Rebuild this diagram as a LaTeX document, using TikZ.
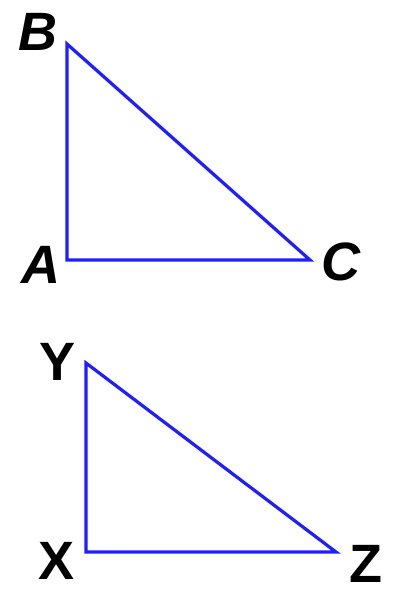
\documentclass[tikz,border=0pt]{standalone}
\usepackage{fontspec}
\setmainfont{Liberation Sans}
\begin{document}
\begin{tikzpicture}[x=1pt,y=-1pt,
  tri/.style={draw={rgb,255:red,30;green,30;blue,255},line width=3.2pt,line join=miter},
  lbl/.style={font=\fontsize{54}{54}\selectfont\bfseries,inner sep=0pt,text=black}]
\useasboundingbox (0,0) rectangle (394,594);
\fill[white] (0,0) rectangle (394,594);
\coordinate (B) at (67,44);
\coordinate (A) at (67,260);
\coordinate (C) at (310,260);
\coordinate (Y) at (86,363);
\coordinate (X) at (86,552);
\coordinate (Z) at (336,552);
\draw[tri] (A) -- (B) -- (C) -- cycle;
\draw[tri] (X) -- (Y) -- (Z) -- cycle;
\node[lbl] (lB) at (38,32) {\itshape B};
\node[lbl] (lA) at (41,265) {\itshape A};
\node[lbl] (lC) at (341,262) {\itshape C};
\node[lbl] (lY) at (58,362) {Y};
\node[lbl] (lX) at (57,561) {X};
\node[lbl] (lZ) at (366,564) {Z};
\end{tikzpicture}
\end{document}
